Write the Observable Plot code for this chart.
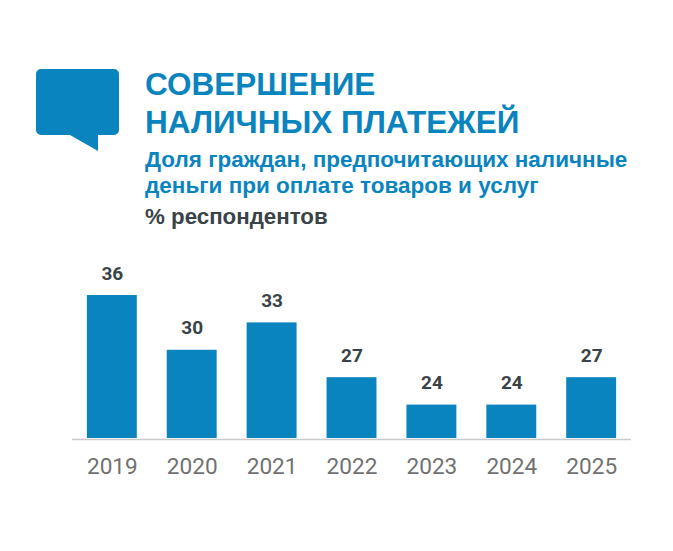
<!DOCTYPE html>
<html><head><meta charset="utf-8">
<script src="https://cdn.jsdelivr.net/npm/d3@7"></script>
<script src="https://cdn.jsdelivr.net/npm/@observablehq/plot@0.6"></script>
<style>
html,body{margin:0;padding:0;background:#fff;width:673px;height:551px;overflow:hidden}
#wrap{position:relative;width:673px;height:551px;font-family:Roboto,sans-serif}
.t{position:absolute;white-space:nowrap}
#icon{position:absolute;left:36px;top:69px}
#chart{position:absolute;left:0;top:240px}
</style></head><body>
<div id="wrap">
<svg id="icon" width="84" height="83" viewBox="0 0 84 83"><path d="M5 0H78a5 5 0 0 1 5 5V61a5 5 0 0 1-5 5H62V82L34 66H5a5 5 0 0 1-5-5V5a5 5 0 0 1 5-5Z" fill="#0a84bf"/></svg>
<div class="t" style="left:145px;top:65px;font:bold 31.5px/38px 'Liberation Sans',Arial;color:#0a84bf">СОВЕРШЕНИЕ<br>НАЛИЧНЫХ ПЛАТЕЖЕЙ</div>
<div class="t" style="left:145px;top:147px;font:bold 22.5px/26px 'Liberation Sans',Arial;color:#0a84bf">Доля граждан, предпочитающих наличные<br>деньги при оплате товаров и услуг</div>
<div class="t" style="left:145px;top:204px;font:bold 22.3px/25px 'Liberation Sans',Arial;color:#3a4347">% респондентов</div>
<div id="chart"></div>
</div>
<script>
const years=["2019","2020","2021","2022","2023","2024","2025"];
const shares=[36,30,33,27,24,24,27];
const rows=years.map((y,i)=>({y,v:shares[i]}));
const plot=Plot.plot({
 width:673,height:250,marginLeft:72,marginRight:42,marginTop:20,marginBottom:51,
 style:{background:"transparent",fontFamily:"Roboto,sans-serif"},
 x:{domain:years,label:null,paddingInner:0.375,paddingOuter:0.186,round:false,tickSize:0,tickPadding:18},
 y:{domain:[20.34,36],range:[198,55],axis:null},
 marks:[
  Plot.barY(rows,{x:"y",y1:20.34,y2:"v",fill:"#0a84bf"}),
  Plot.ruleY([20.34],{stroke:"#c9c9d0",strokeWidth:1.5,dy:1}),
  Plot.text(rows,{x:"y",y:"v",text:d=>String(d.v),dy:-22,fill:"#3a4347",fontWeight:"bold",fontSize:19})
 ]
});
plot.querySelectorAll('[aria-label="x-axis tick label"] text').forEach(t=>{t.style.fontSize="22.6px";t.style.fill="#717171"});
document.getElementById("chart").appendChild(plot);
</script>
</body></html>
